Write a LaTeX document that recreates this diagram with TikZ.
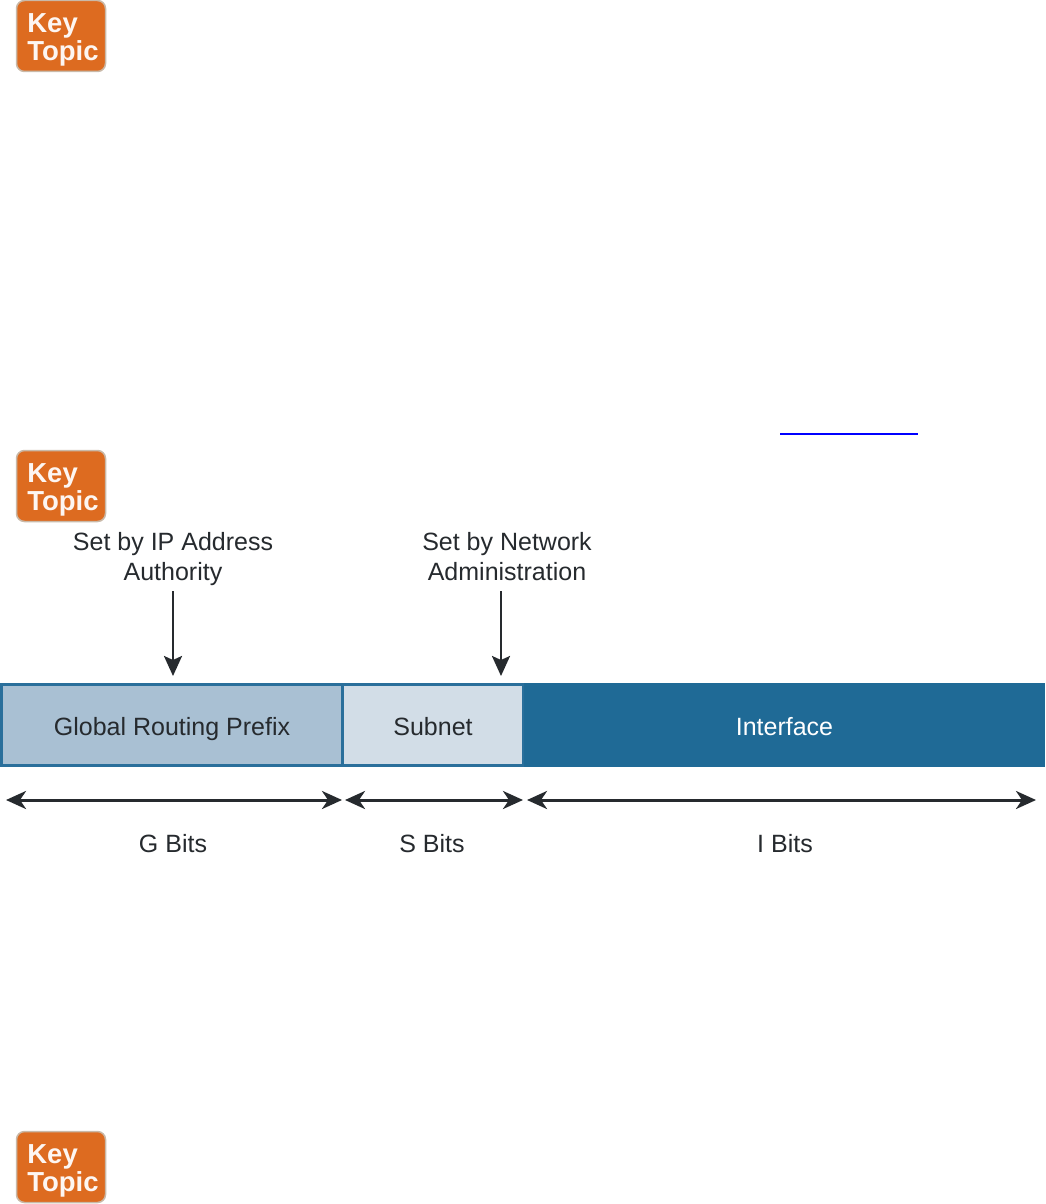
\documentclass[tikz,border=0pt]{standalone}
\usepackage{fontspec}
\setmainfont{Liberation Sans}
\usetikzlibrary{arrows.meta,positioning}
\definecolor{badge}{HTML}{DD6B20}
\definecolor{badgeedge}{HTML}{C9B9A8}
\definecolor{barline}{HTML}{2A6F9B}
\definecolor{gfill}{HTML}{A9C0D3}
\definecolor{sfill}{HTML}{D2DDE7}
\definecolor{ifill}{HTML}{1F6A96}
\definecolor{ink}{HTML}{262A2E}
\newcommand{\keytopictext}{\rule{0pt}{26pt}\hspace{4pt}Key\\\hspace{4pt}Topic}
\tikzset{
  x=1pt,y=-1pt,
  keytopic/.style={draw=badgeedge,line width=1.5pt,fill=badge,rounded corners=8pt,minimum width=89pt,minimum height=71pt,inner sep=0pt,align=left,font=\fontsize{27.5}{28}\selectfont\bfseries,text=white!94!badge},
  seg/.style={minimum height=81pt,inner sep=0pt,line width=2.6pt,font=\fontsize{25}{30}\selectfont,text=ink,text height=21pt,text depth=1pt},
  lab/.style={inner sep=0pt,align=center,font=\fontsize{25}{30}\selectfont,text=ink},
  tip/.style={-{Stealth[length=20pt,width=18pt,inset=4pt]},line width=2.6pt,draw=ink},
  span/.style={{Stealth[length=20pt,width=18pt,inset=6pt]}-{Stealth[length=20pt,width=18pt,inset=6pt]},line width=3pt,draw=ink},
}
\begin{document}
\begin{tikzpicture}
\useasboundingbox (0,0) rectangle (1045,1204);
\fill[white] (0,0) rectangle (1045,1204);
% badges
\node[keytopic] (k1) at (61,36) {\keytopictext};
\node[keytopic] (k2) at (61,486) {\keytopictext};
\node[keytopic] (k3) at (61,1167) {\keytopictext};
% hyperlink rule
\coordinate (l1) at (780,434);
\coordinate (l2) at (918,434);
\draw[blue,line width=1.3pt] (l1) -- (l2);
% bar
\node[seg,draw=barline,fill=gfill,minimum width=341pt] (g) at (172,725) {Global Routing Prefix};
\node[seg,draw=barline,fill=sfill,minimum width=181pt] (s) at (433,725) {Subnet};
\node[seg,draw=ifill,fill=ifill,minimum width=518pt,text=white] (i) at (784.5,725) {Interface};
% labels
\node[lab] (a1) at (173,559) {\strut Set by IP Address\\Authority\strut};
\node[lab] (a2) at (507,559) {\strut Set by Network\\Administration\strut};
\coordinate (t1) at (173,676);
\coordinate (t2) at (501,676);
\coordinate (f1) at (173,591);
\coordinate (f2) at (501,591);
\draw[tip] (f1) -- (t1);
\draw[tip] (f2) -- (t2);
% spans
\coordinate (ga) at (6,800); \coordinate (gb) at (342,800);
\coordinate (sa) at (345,800); \coordinate (sb) at (523,800);
\coordinate (ia) at (527,800); \coordinate (ib) at (1036,800);
\draw[span] (ga) -- (gb);
\draw[span] (sa) -- (sb);
\draw[span] (ia) -- (ib);
\node[lab] (gl) at (173,844) {G Bits};
\node[lab] (sl) at (432,844) {S Bits};
\node[lab] (il) at (785,844) {I Bits};
\end{tikzpicture}
\end{document}
